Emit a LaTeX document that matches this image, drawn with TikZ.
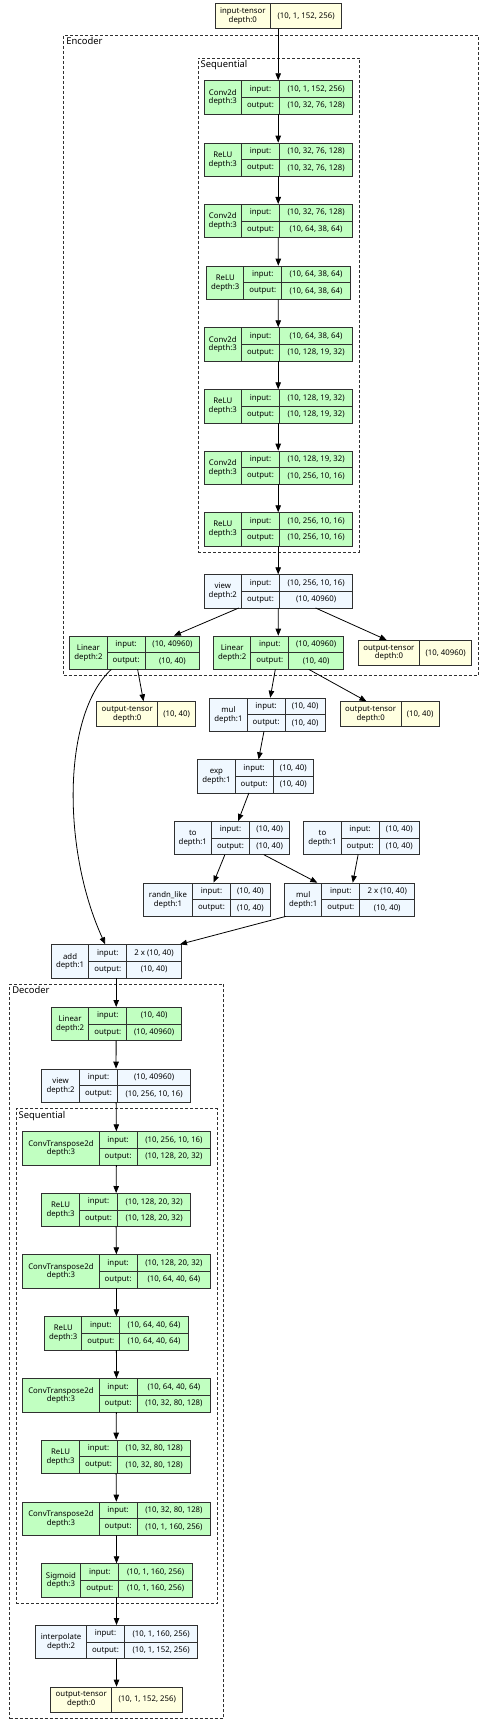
\documentclass[tikz,border=0pt]{standalone}
\usepackage{fontspec}
\setmainfont{Noto Sans}
\usetikzlibrary{arrows.meta}
\definecolor{modgreen}{HTML}{C1FFC1}
\definecolor{funblue}{HTML}{F0F8FF}
\definecolor{tenyellow}{HTML}{FFFFE0}
\definecolor{boxline}{HTML}{303030}

% #1 name, #2 fill, #3 left, #4 divider, #5 right, #6 top, #7 label, #8 input, #9 output
\newcommand{\modbox}[9]{%
  \node[cell, fill=#2, minimum width={(#4-#3)*1pt}, minimum height=33.3pt] (#1-n) at (#3,#6) {#7};
  \node[cell, fill=#2, minimum width=38pt, minimum height=16.65pt] (#1-i) at (#4,#6) {input:};
  \node[cell, fill=#2, minimum width=38pt, minimum height=16.65pt] (#1-o) at (#4,{#6+16.65}) {output:};
  \node[cell, fill=#2, minimum width={(#5-#4-38)*1pt}, minimum height=16.65pt] (#1-iv) at ({#4+38},#6) {#8};
  \node[cell, fill=#2, minimum width={(#5-#4-38)*1pt}, minimum height=16.65pt] (#1-ov) at ({#4+38},{#6+16.65}) {#9};
  \node[hull, minimum width={(#5-#3)*1pt}, minimum height=33.3pt] (#1) at (#3,#6) {};
}
% #1 name, #2 left, #3 divider, #4 right, #5 top, #6 label, #7 value
\newcommand{\tensorbox}[7]{%
  \node[cell, fill=tenyellow, minimum width={(#3-#2)*1pt}, minimum height=25pt] (#1-n) at (#2,#5) {#6};
  \node[cell, fill=tenyellow, minimum width={(#4-#3)*1pt}, minimum height=25pt] (#1-v) at (#3,#5) {#7};
  \node[hull, minimum width={(#4-#2)*1pt}, minimum height=25pt] (#1) at (#2,#5) {};
}

\begin{document}
\begin{tikzpicture}[x=1pt, y=-1pt,
    cell/.style={draw=boxline, line width=0.9pt, inner sep=0pt, anchor=north west, align=center,
      font=\fontsize{7.8}{8.8}\selectfont},
    hull/.style={inner sep=0pt, anchor=north west},
    cluster/.style={draw=boxline, line width=0.7pt, dash pattern=on 3pt off 2pt, inner sep=0pt, anchor=north west},
    clabel/.style={anchor=north west, inner sep=2.8pt, font=\fontsize{9.4}{10}\selectfont},
    edge/.style={->, >={Triangle[length=7pt,width=5.5pt]}, line width=0.8pt}]
  \useasboundingbox (0,0) rectangle (487,1728);

  % clusters
  \node[cluster, minimum width=414.4pt, minimum height=640.3pt] (enc) at (63.3,34.7) {};
  \node[clabel] (enc-label) at (enc.north west) {Encoder};
  \node[cluster, minimum width=161.3pt, minimum height=494pt] (encseq) at (197.7,57.7) {};
  \node[clabel] (encseq-label) at (encseq.north west) {Sequential};
  \node[cluster, minimum width=213.7pt, minimum height=734.6pt] (dec) at (9.3,983.7) {};
  \node[clabel] (dec-label) at (dec.north west) {Decoder};
  \node[cluster, minimum width=201pt, minimum height=495pt] (decseq) at (15.7,1108.3) {};
  \node[clabel] (decseq-label) at (decseq.north west) {Sequential};

  % encoder
  \tensorbox{in0}{214.7}{270}{341.3}{3.3}{input-tensor\\depth:0}{(10, 1, 152, 256)}
  \modbox{c1}{modgreen}{203.7}{241}{352.3}{80.3}{Conv2d\\depth:3}{(10, 1, 152, 256)}{(10, 32, 76, 128)}
  \modbox{r1}{modgreen}{203.7}{241}{352.3}{142.7}{ReLU\\depth:3}{(10, 32, 76, 128)}{(10, 32, 76, 128)}
  \modbox{c2}{modgreen}{203.7}{241}{352.3}{204}{Conv2d\\depth:3}{(10, 32, 76, 128)}{(10, 64, 38, 64)}
  \modbox{r2}{modgreen}{206.3}{243.3}{350}{265.7}{ReLU\\depth:3}{(10, 64, 38, 64)}{(10, 64, 38, 64)}
  \modbox{c3}{modgreen}{203.7}{241}{352.3}{327.3}{Conv2d\\depth:3}{(10, 64, 38, 64)}{(10, 128, 19, 32)}
  \modbox{r3}{modgreen}{203.7}{241}{352.3}{389.3}{ReLU\\depth:3}{(10, 128, 19, 32)}{(10, 128, 19, 32)}
  \modbox{c4}{modgreen}{203.7}{241}{352.3}{450.7}{Conv2d\\depth:3}{(10, 128, 19, 32)}{(10, 256, 10, 16)}
  \modbox{r4}{modgreen}{203.7}{241}{352.3}{512.3}{ReLU\\depth:3}{(10, 256, 10, 16)}{(10, 256, 10, 16)}
  \modbox{view}{funblue}{203.7}{241}{352.3}{574.3}{view\\depth:2}{(10, 256, 10, 16)}{(10, 40960)}
  \modbox{linL}{modgreen}{69.3}{106.7}{199.3}{635.7}{Linear\\depth:2}{(10, 40960)}{(10, 40)}
  \modbox{linM}{modgreen}{213.3}{250.3}{343}{635.7}{Linear\\depth:2}{(10, 40960)}{(10, 40)}
  \tensorbox{outA}{358}{419}{471.3}{640}{output-tensor\\depth:0}{(10, 40960)}

  % sampling
  \tensorbox{outB}{96.3}{157.3}{195}{701.3}{output-tensor\\depth:0}{(10, 40)}
  \modbox{mulA}{funblue}{209.3}{246.7}{324.7}{697.7}{mul\\depth:1}{(10, 40)}{(10, 40)}
  \tensorbox{outC}{339.7}{400.7}{438.7}{701.3}{output-tensor\\depth:0}{(10, 40)}
  \modbox{exp}{funblue}{197.3}{234.7}{313}{759.3}{exp\\depth:1}{(10, 40)}{(10, 40)}
  \modbox{toL}{funblue}{173.7}{211}{289.3}{821}{to\\depth:1}{(10, 40)}{(10, 40)}
  \modbox{toR}{funblue}{303.3}{340.7}{419}{821}{to\\depth:1}{(10, 40)}{(10, 40)}
  \modbox{randn}{funblue}{143}{192}{270}{882.7}{randn\_like\\depth:1}{(10, 40)}{(10, 40)}
  \modbox{mulB}{funblue}{284.3}{321.3}{414.3}{882.7}{mul\\depth:1}{2 x (10, 40)}{(10, 40)}
  \modbox{add}{funblue}{51}{88.3}{181}{944.3}{add\\depth:1}{2 x (10, 40)}{(10, 40)}

  % decoder
  \modbox{linD}{modgreen}{51}{88.3}{181}{1007}{Linear\\depth:2}{(10, 40)}{(10, 40960)}
  \modbox{viewD}{funblue}{41.3}{79}{190.3}{1068.7}{view\\depth:2}{(10, 40960)}{(10, 256, 10, 16)}
  \modbox{ct1}{modgreen}{22.3}{98.7}{210.3}{1131.3}{ConvTranspose2d\\depth:3}{(10, 256, 10, 16)}{(10, 128, 20, 32)}
  \modbox{rd1}{modgreen}{41.3}{79}{190.3}{1193}{ReLU\\depth:3}{(10, 128, 20, 32)}{(10, 128, 20, 32)}
  \modbox{ct2}{modgreen}{22.3}{98.7}{210.3}{1254.3}{ConvTranspose2d\\depth:3}{(10, 128, 20, 32)}{(10, 64, 40, 64)}
  \modbox{rd2}{modgreen}{44.3}{81.3}{188}{1316.3}{ReLU\\depth:3}{(10, 64, 40, 64)}{(10, 64, 40, 64)}
  \modbox{ct3}{modgreen}{22.3}{98.7}{210.3}{1378.3}{ConvTranspose2d\\depth:3}{(10, 64, 40, 64)}{(10, 32, 80, 128)}
  \modbox{rd3}{modgreen}{41.3}{79}{190.3}{1439.7}{ReLU\\depth:3}{(10, 32, 80, 128)}{(10, 32, 80, 128)}
  \modbox{ct4}{modgreen}{22.3}{98.7}{210.3}{1501.7}{ConvTranspose2d\\depth:3}{(10, 32, 80, 128)}{(10, 1, 160, 256)}
  \modbox{sig}{modgreen}{40.7}{80.3}{192}{1563.3}{Sigmoid\\depth:3}{(10, 1, 160, 256)}{(10, 1, 160, 256)}
  \modbox{interp}{funblue}{35.3}{86}{197.3}{1625}{interpolate\\depth:2}{(10, 1, 160, 256)}{(10, 1, 152, 256)}
  \tensorbox{out}{50.3}{111.3}{182.3}{1686.7}{output-tensor\\depth:0}{(10, 1, 152, 256)}

  % connectors
  \foreach \a/\b in {in0/c1, c1/r1, r1/c2, c2/r2, r2/c3, c3/r3, r3/c4, c4/r4, r4/view,
      view/linL, view/linM, view/outA, linL/outB, linM/mulA, linM/outC, mulA/exp, exp/toL,
      toL/randn, toL/mulB, toR/mulB, mulB/add, add/linD, linD/viewD, viewD/ct1, ct1/rd1,
      rd1/ct2, ct2/rd2, rd2/ct3, ct3/rd3, rd3/ct4, ct4/sig, sig/interp, interp/out}
    \draw[edge] (\a) -- (\b);
  \draw[edge] (linL.216) .. controls (62,715) and (62,850) .. (add.123);
\end{tikzpicture}
\end{document}
